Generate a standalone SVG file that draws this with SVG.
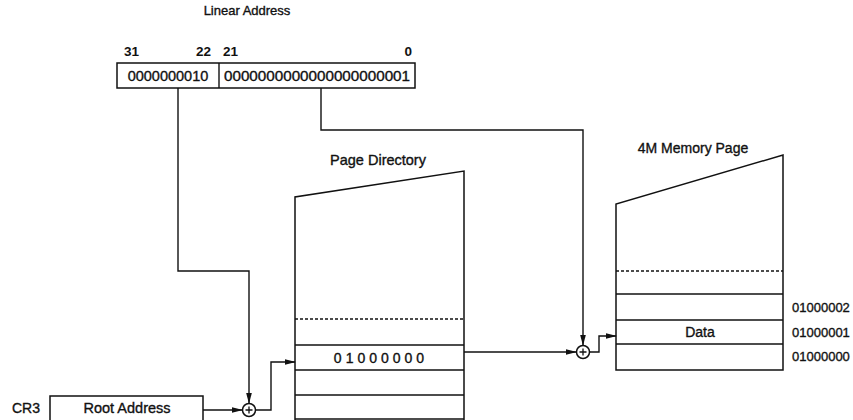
<svg xmlns="http://www.w3.org/2000/svg" width="853" height="420" viewBox="0 0 853 420">
<style>
text{font-family:"Liberation Sans",Arial,sans-serif;fill:#111;stroke:#111;stroke-width:0.35;font-size:14px}
.box{fill:#fff;stroke:#111;stroke-width:1.5}
.ln{fill:none;stroke:#111;stroke-width:1.4}
.dash{stroke-dasharray:3 2}
.c{text-anchor:middle}
</style>
<defs>
<marker id="ah" markerWidth="11" markerHeight="8" refX="10" refY="4" orient="auto" markerUnits="userSpaceOnUse">
<path d="M0,1.2 L11,4 L0,6.8 Z" fill="#111"/>
</marker>
</defs>
<text x="247" y="15" class="c" style="font-size:13px">Linear Address</text>
<g id="linear-address">
<text x="124" y="56" style="font-weight:bold;font-size:13.5px;stroke-width:0">31</text>
<text x="211" y="56" style="font-weight:bold;font-size:13.5px;text-anchor:end;stroke-width:0">22</text>
<text x="223" y="56" style="font-weight:bold;font-size:13.5px;stroke-width:0">21</text>
<text x="412" y="56" style="font-weight:bold;font-size:13.5px;text-anchor:end;stroke-width:0">0</text>
<rect x="117" y="63" width="298" height="25" class="box"/>
<line x1="219" y1="63" x2="219" y2="88" class="ln"/>
<text x="168" y="81" class="c" style="font-size:14.5px">0000000010</text>
<text x="317" y="81" class="c" style="font-size:14.5px" textLength="186" lengthAdjust="spacingAndGlyphs">0000000000000000000001</text>
</g>
<g id="cr3">
<text x="12" y="413" style="font-size:14px">CR3</text>
<rect x="50" y="396" width="153" height="30" class="box"/>
<text x="127" y="413" class="c" style="font-size:14.5px">Root Address</text>
</g>
<g id="page-directory">
<text x="378" y="165" class="c" style="font-size:14.5px">Page Directory</text>
<path d="M295,420 L295,197 L464,171 L464,420" class="ln" style="stroke-width:1.5"/>
<line x1="295" y1="319" x2="464" y2="319" class="ln dash"/>
<line x1="295" y1="345" x2="464" y2="345" class="ln"/>
<line x1="295" y1="370" x2="464" y2="370" class="ln"/>
<line x1="295" y1="395" x2="464" y2="395" class="ln"/>
<line x1="295" y1="419" x2="464" y2="419" class="ln"/>
<text x="381" y="363" class="c" style="font-size:14px;letter-spacing:4px">01000000</text>
</g>
<g id="memory-page">
<text x="693" y="153" class="c" style="font-size:14px">4M Memory Page</text>
<path d="M616,370 L616,204 L783,155 L783,370 Z" class="ln" style="stroke-width:1.5"/>
<line x1="616" y1="271" x2="783" y2="271" class="ln dash"/>
<line x1="616" y1="294" x2="783" y2="294" class="ln"/>
<line x1="616" y1="320" x2="783" y2="320" class="ln"/>
<line x1="616" y1="344" x2="783" y2="344" class="ln"/>
<text x="700" y="337" class="c" style="font-size:14px">Data</text>
<text x="792" y="312" style="font-size:13px">01000002</text>
<text x="792" y="337" style="font-size:13px">01000001</text>
<text x="792" y="361" style="font-size:13px">01000000</text>
</g>
<g id="adder1">
<circle cx="249" cy="410" r="6.5" class="box"/>
<path d="M245.5,410 H252.5 M249,406.5 V413.5" class="ln" style="stroke-width:1.3"/>
</g>
<g id="adder2">
<circle cx="583" cy="352" r="6.5" class="box"/>
<path d="M579.5,352 H586.5 M583,348.5 V355.5" class="ln" style="stroke-width:1.3"/>
</g>
<g id="connectors">
<path d="M178,88 V271 H249 V403" class="ln" marker-end="url(#ah)"/>
<path d="M203,410 H242" class="ln" marker-end="url(#ah)"/>
<path d="M255.5,410 H271 V362 H295" class="ln" marker-end="url(#ah)"/>
<path d="M321,88 V130 H583 V345" class="ln" marker-end="url(#ah)"/>
<path d="M464,352 H576" class="ln" marker-end="url(#ah)"/>
<path d="M589.5,352 H599 V336 H616" class="ln" marker-end="url(#ah)"/>
</g>
</svg>
